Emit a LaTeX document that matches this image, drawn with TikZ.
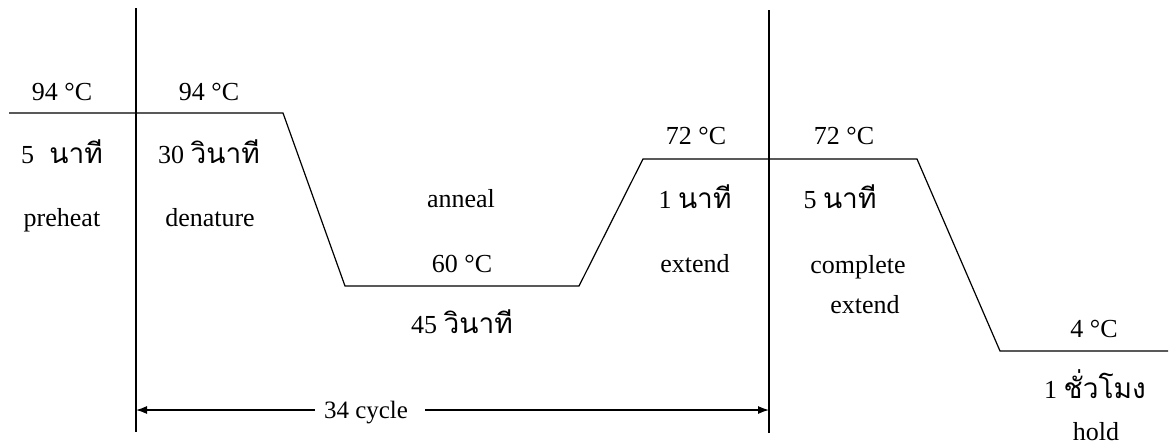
\documentclass[tikz,border=0pt]{standalone}
\usepackage{fontspec}
\setmainfont{Liberation Serif}
\newfontfamily\thaifont[Script=Thai,Scale=1.08]{Loma}
\newcommand\thw[1]{{\thaifont #1}}
\usetikzlibrary{arrows.meta}
\begin{document}
\begin{tikzpicture}[x=1pt,y=-1pt,
  lbl/.style={anchor=base,inner sep=0pt,font=\fontsize{26}{28}\selectfont},
  ln/.style={line width=1.2pt,line join=miter},
  arr/.style={line width=1.2pt,-{Latex[length=11pt,width=8pt]}}]
\useasboundingbox (0,0) rectangle (1174,445);
% vertical separators
\coordinate (v1t) at (136,8);
\coordinate (v1b) at (136,432);
\coordinate (v2t) at (769,10);
\coordinate (v2b) at (769,433);
\draw[ln] (v1t) -- (v1b);
\draw[ln] (v2t) -- (v2b);
% temperature profile
\coordinate (p0) at (9,113);
\coordinate (p1) at (283,113);
\coordinate (p2) at (345,286);
\coordinate (p3) at (579,286);
\coordinate (p4) at (643,159);
\coordinate (p5) at (917,159);
\coordinate (p6) at (1000,351);
\coordinate (p7) at (1168,351);
\draw[ln] (p0) -- (p1) -- (p2) -- (p3) -- (p4) -- (p5) -- (p6) -- (p7);
% labels
\node[lbl] (t1) at (62,100) {94 °C};
\node[lbl] (d1) at (62,163) {5\,\, \thw{นาที}};
\node[lbl] (s1) at (62,226) {preheat};
\node[lbl] (t2) at (209,100) {94 °C};
\node[lbl] (d2) at (209,163) {30 \thw{วินาที}};
\node[lbl] (s2) at (210,226) {denature};
\node[lbl] (s3) at (461,207) {anneal};
\node[lbl] (t3) at (462,272) {60 °C};
\node[lbl] (d3) at (462,333) {45 \thw{วินาที}};
\node[lbl] (t4) at (696,144) {72 °C};
\node[lbl] (d4) at (695,208) {1 \thw{นาที}};
\node[lbl] (s4) at (695,272) {extend};
\node[lbl] (t5) at (844,144) {72 °C};
\node[lbl] (d5) at (840,208) {5 \thw{นาที}};
\node[lbl] (s5a) at (858,273) {complete};
\node[lbl] (s5b) at (865,313) {extend};
\node[lbl] (t6) at (1094,337) {4 °C};
\node[lbl] (d6) at (1095,398) {1 \thw{ชั่วโมง}};
\node[lbl] (s6) at (1096,440) {hold};
% cycle arrow
\coordinate (al) at (136,410);
\coordinate (ar) at (769,410);
\node[lbl,font=\fontsize{25}{28}\selectfont] (cyc) at (366,418) {34 cycle};
\coordinate (cl) at (315,410);
\coordinate (cr) at (425,410);
\draw[arr] (cl) -- (al);
\draw[arr] (cr) -- (ar);
\end{tikzpicture}
\end{document}
